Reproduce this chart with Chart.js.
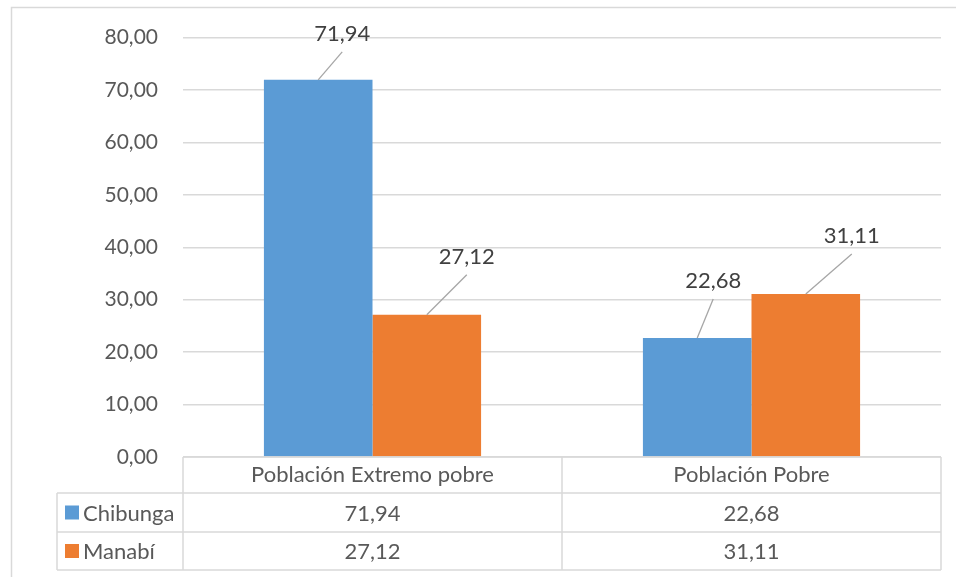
<!DOCTYPE html>
<html>
<head>
<meta charset="utf-8">
<script src="https://cdn.jsdelivr.net/npm/chart.js@4"></script>
<style>
  html, body { margin: 0; padding: 0; background: #fff; }
  #chart { display: block; }
</style>
</head>
<body>
<canvas id="chart" width="956" height="577"></canvas>
<script>
// data
const categories = ["Población Extremo pobre", "Población Pobre"];
const seriesNames = ["Chibunga", "Manabí"];
const chibunga = [71.94, 22.68];
const manabi = [27.12, 31.11];
const yTicks = [0, 10, 20, 30, 40, 50, 60, 70, 80];

const colors = ["#5B9BD5", "#ED7D31"];
const FONT = "Lato, 'Open Sans', sans-serif";

// where each data label sits relative to the top of its bar (px): [dx, dy]
const labelOffsets = [
  [[24, -28], [16, -39]],
  [[40, -40], [46, -40]]
];

const fmt = v => v.toFixed(2).replace(".", ",");

// leader lines + labels above bars
const dataLabels = {
  id: "dataLabels",
  afterDatasetsDraw(chart) {
    const ctx = chart.ctx;
    ctx.save();
    chart.data.datasets.forEach((ds, di) => {
      chart.getDatasetMeta(di).data.forEach((bar, i) => {
        const [dx, dy] = labelOffsets[di][i];
        const x = bar.x, y = bar.y;
        ctx.strokeStyle = "#A6A6A6";
        ctx.lineWidth = 1.3;
        ctx.beginPath();
        ctx.moveTo(x, y);
        ctx.lineTo(x + dx, y + dy);
        ctx.stroke();
        ctx.fillStyle = "#404040";
        ctx.font = "22px " + FONT;
        ctx.textAlign = "center";
        ctx.textBaseline = "middle";
        ctx.fillText(fmt(ds.data[i]), x + dx, y + dy - 18);
      });
    });
    ctx.restore();
  }
};

// Excel style data table under the plot + outer frame
const dataTable = {
  id: "dataTable",
  afterDraw(chart) {
    const ctx = chart.ctx;
    const area = chart.chartArea;
    const xs = chart.scales.x;
    const half = (area.right - area.left) / categories.length / 2;
    const rows = [area.bottom, area.bottom + 36, area.bottom + 75, area.bottom + 113];
    const firstCol = 57;
    ctx.save();
    ctx.strokeStyle = "#D9D9D9";
    ctx.lineWidth = 1.5;

    // frame of the whole chart
    ctx.beginPath();
    ctx.moveTo(11.5, chart.height);
    ctx.lineTo(11.5, 7.5);
    ctx.lineTo(chart.width, 7.5);
    ctx.stroke();

    ctx.beginPath();
    // header row
    ctx.moveTo(area.left, rows[0]); ctx.lineTo(area.right, rows[0]);
    for (let r = 1; r < rows.length; r++) {
      ctx.moveTo(firstCol, rows[r]); ctx.lineTo(area.right, rows[r]);
    }
    ctx.moveTo(area.left, rows[0]); ctx.lineTo(area.left, rows[3]);
    ctx.moveTo(firstCol, rows[1]); ctx.lineTo(firstCol, rows[3]);
    categories.forEach((c, i) => {
      const right = xs.getPixelForValue(i) + half;
      ctx.moveTo(right, rows[0]); ctx.lineTo(right, rows[3]);
    });
    ctx.stroke();

    ctx.font = "22px " + FONT;
    ctx.fillStyle = "#595959";
    ctx.textBaseline = "middle";
    ctx.textAlign = "center";
    categories.forEach((c, i) => {
      const cx = xs.getPixelForValue(i);
      ctx.fillText(c, cx, (rows[0] + rows[1]) / 2);
      chart.data.datasets.forEach((ds, di) => {
        ctx.fillText(fmt(ds.data[i]), cx, (rows[di + 1] + rows[di + 2]) / 2 + 1);
      });
    });

    ctx.textAlign = "left";
    seriesNames.forEach((name, di) => {
      const cy = (rows[di + 1] + rows[di + 2]) / 2;
      ctx.fillStyle = colors[di];
      ctx.fillRect(65, cy - 7, 14, 14);
      ctx.fillStyle = "#595959";
      ctx.fillText(name, 83, cy + 1);
    });
    ctx.restore();
  }
};

new Chart(document.getElementById("chart"), {
  type: "bar",
  data: {
    labels: categories,
    datasets: [
      { label: seriesNames[0], data: chibunga, backgroundColor: colors[0] },
      { label: seriesNames[1], data: manabi, backgroundColor: colors[1] }
    ]
  },
  options: {
    responsive: false,
    animation: false,
    devicePixelRatio: 1,
    categoryPercentage: 0.573,
    barPercentage: 1,
    layout: { padding: { left: 0, right: 15, top: 37, bottom: 120 } },
    plugins: {
      legend: { display: false },
      tooltip: { enabled: false }
    },
    scales: {
      x: { display: false },
      y: {
        min: yTicks[0],
        max: yTicks[yTicks.length - 1],
        afterFit(scale) { scale.width = 183; },
        afterBuildTicks(scale) { scale.ticks = yTicks.map(v => ({ value: v })); },
        border: { display: false },
        grid: { color: "#D9D9D9", lineWidth: 1.5, drawTicks: false },
        ticks: {
          padding: 25,
          color: "#595959",
          font: { family: FONT, size: 21 },
          callback: v => fmt(v)
        }
      }
    }
  },
  plugins: [dataLabels, dataTable]
});
</script>
</body>
</html>
